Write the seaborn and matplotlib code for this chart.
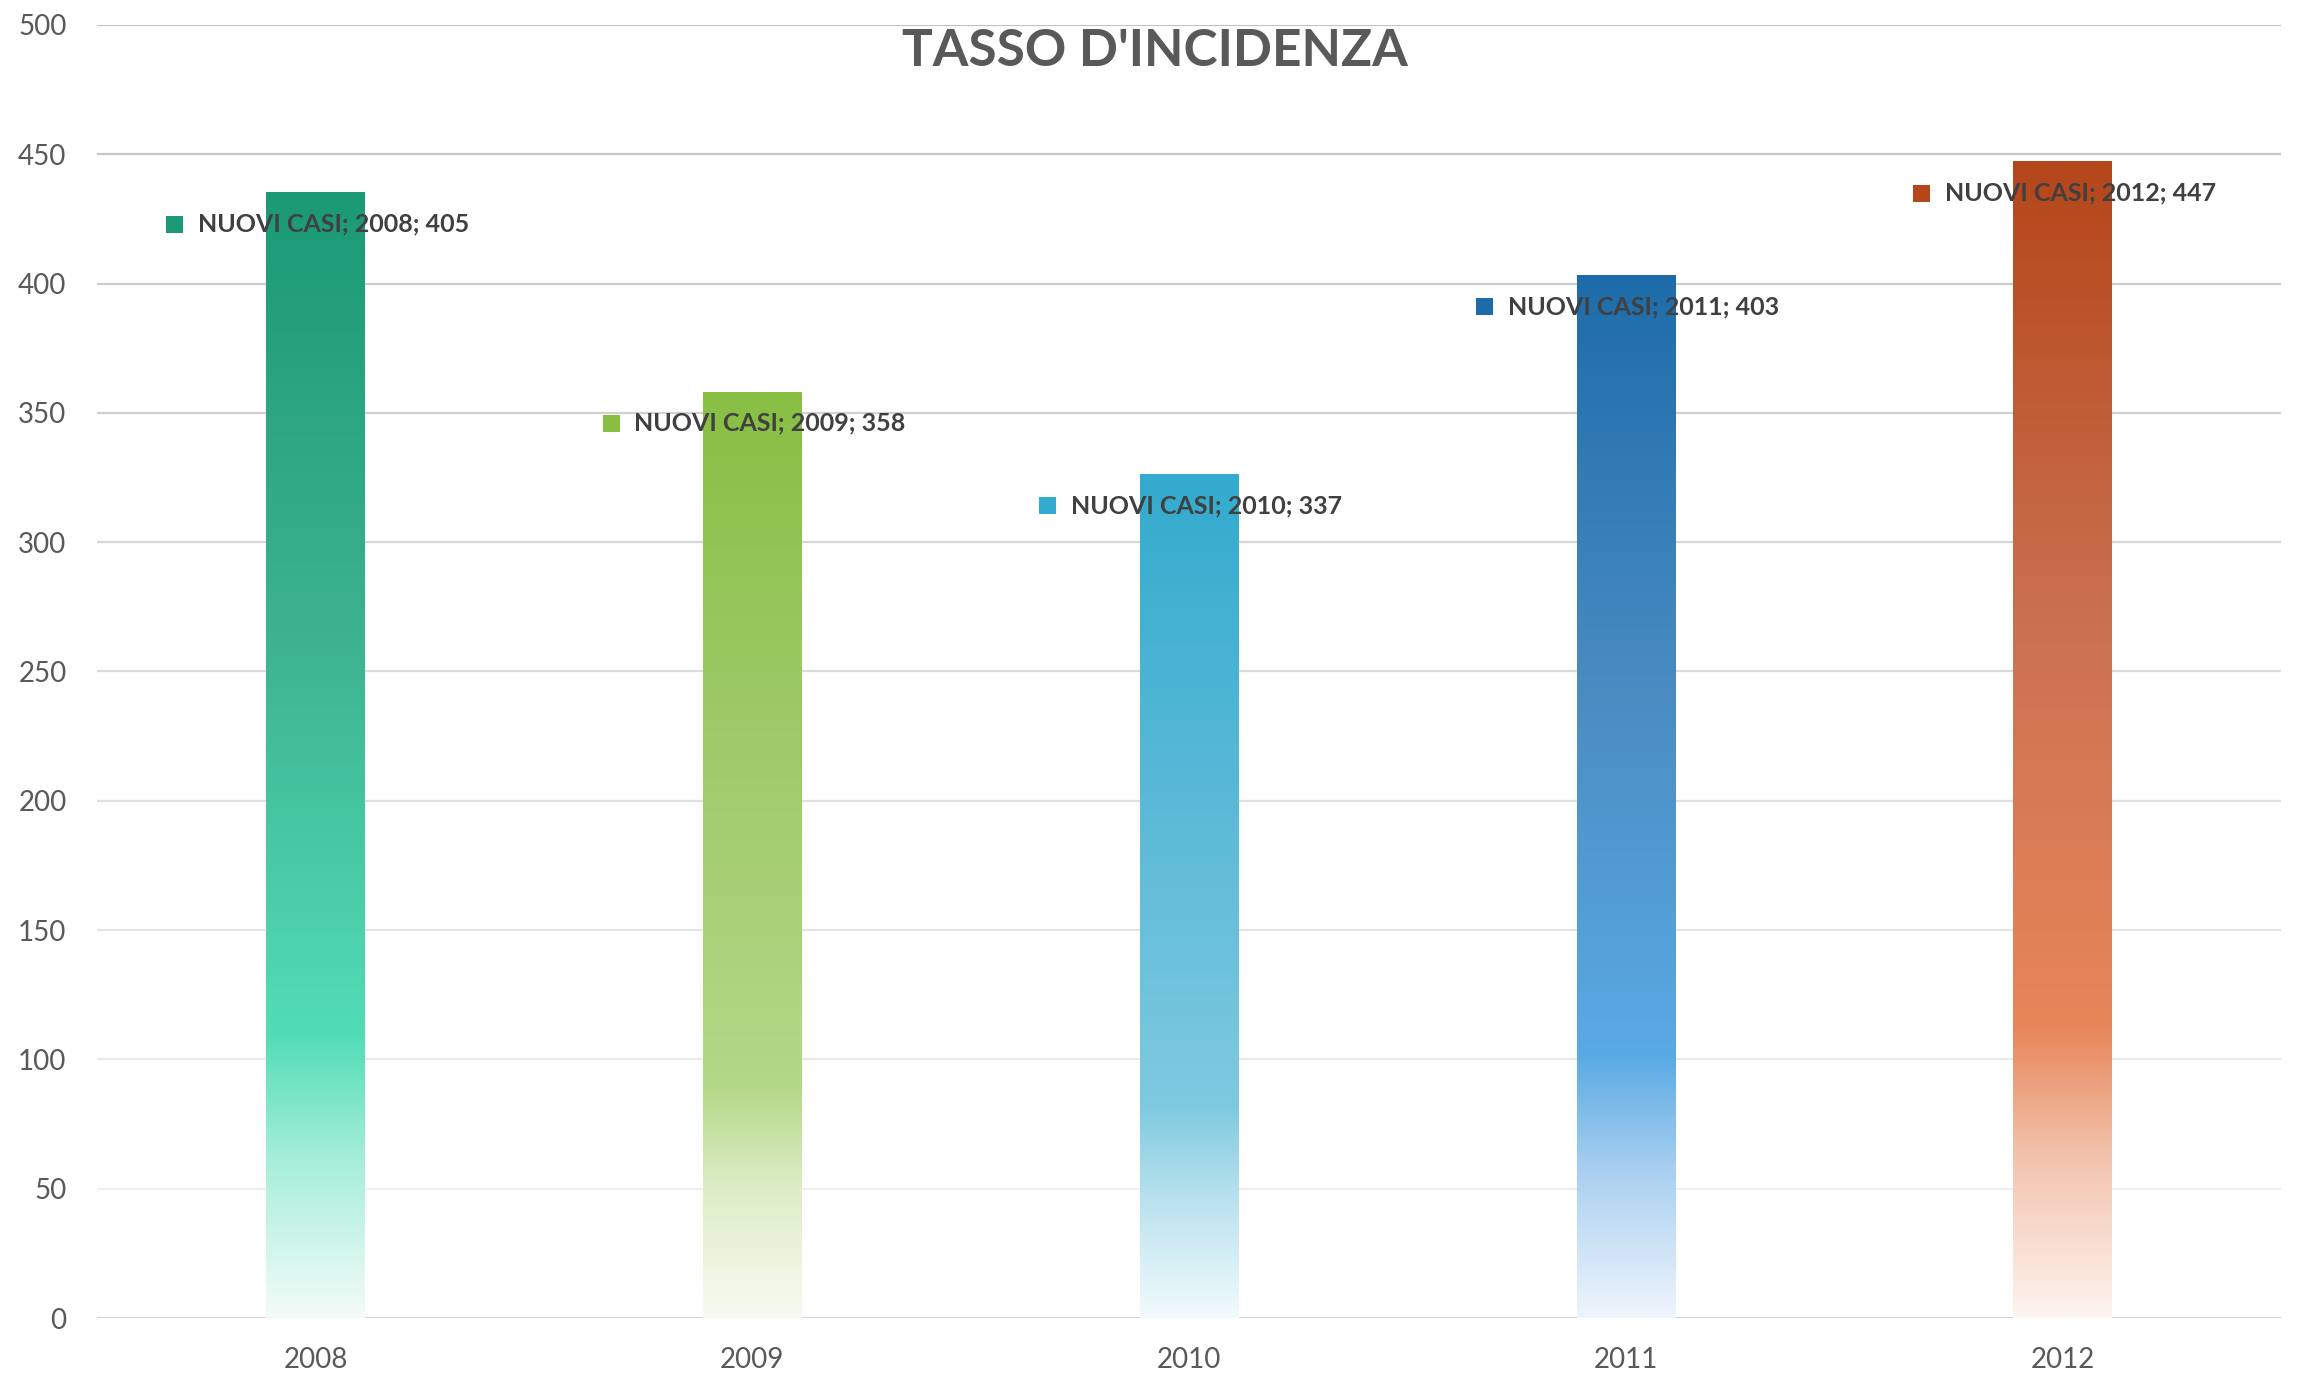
import matplotlib
matplotlib.use('Agg')
import matplotlib.pyplot as plt
import matplotlib.colors as mcolors
import seaborn as sns
import numpy as np
import pandas as pd

# dati
anni = ['2008', '2009', '2010', '2011', '2012']
altezze_barre = [435, 358, 326, 403, 447]      # altezza disegnata delle colonne
valori_etichette = [405, 358, 337, 403, 447]   # valori riportati nelle etichette
serie = 'NUOVI CASI'
titolo = "TASSO D'INCIDENZA"
tick_y = [0, 50, 100, 150, 200, 250, 300, 350, 400, 450, 500]

# sfumature (fondo, chiaro, pieno, metà, cima) per ogni colonna
sfumature = [
    ['#F3FCF9', '#A6EED9', '#52DDB6', '#3DB391', '#1B9975'],
    ['#F8FAF2', '#DDEDC6', '#B3D887', '#A0CB6C', '#88BF43'],
    ['#F2FAFD', '#B9E2EE', '#7ECAE0', '#5BBAD7', '#33ABCE'],
    ['#EEF5FC', '#A9D0F0', '#5AAAE4', '#4A8CC2', '#1D6CA9'],
    ['#FDF4EF', '#F2C3AC', '#E8865A', '#CB7150', '#B4461A'],
]
posizioni = [0.0, 0.14, 0.25, 0.6, 1.0]

sns.set_style('white')
plt.rcParams['font.family'] = ['Lato', 'DejaVu Sans']

fig = plt.figure(figsize=(23, 13.78), dpi=100)
ax = fig.add_axes([0.0422, 0.0435, 0.9495, 0.9384])

df = pd.DataFrame({'anno': anni, 'casi': altezze_barre})
sns.barplot(data=df, x='anno', y='casi', ax=ax, width=0.225,
            color='white', linewidth=0, zorder=2)

# colonne con sfumatura verticale
for patch, cols in zip(ax.patches, sfumature):
    x0, w, h = patch.get_x(), patch.get_width(), patch.get_height()
    cmap = mcolors.LinearSegmentedColormap.from_list('g', list(zip(posizioni, cols)))
    grad = np.linspace(0, 1, 512).reshape(-1, 1)
    ax.imshow(grad, extent=[x0, x0 + w, 0, h], origin='lower', cmap=cmap,
              aspect='auto', zorder=3, interpolation='bicubic')
    patch.set_facecolor('none')

# griglia orizzontale, più scura in alto
for t in tick_y:
    if t == 0:
        c = '#D4D4D4'
    else:
        f = (t - 50) / 450
        c = mcolors.to_hex(np.array(mcolors.to_rgb('#EFEFEF')) * (1 - f)
                           + np.array(mcolors.to_rgb('#C2C2C2')) * f)
    ax.axhline(t, color=c, lw=1.6, zorder=1)

# etichette dati
for i, (h, v, cols) in enumerate(zip(altezze_barre, valori_etichette, sfumature)):
    y = h - 12
    ax.scatter([i - 0.323], [y], marker='s', s=150, color=cols[4], zorder=5,
               edgecolors='none')
    ax.text(i - 0.27, y, f'{serie}; {anni[i]}; {v}', fontsize=18,
            fontweight='bold', color='#404040', va='center', ha='left', zorder=6)

ax.set_xlim(-0.5, 4.5)
ax.set_ylim(0, 500)
ax.set_yticks(tick_y)
ax.set_xlabel('')
ax.set_ylabel('')
ax.tick_params(axis='both', length=0, labelsize=20, labelcolor='#595959')
ax.tick_params(axis='y', pad=22)
ax.tick_params(axis='x', pad=21)
for s in ax.spines.values():
    s.set_visible(False)

fig.text(1155 / 2300, 1 - 51 / 1378, titolo, fontsize=37, fontweight='bold',
         color='#595959', ha='center', va='center')

fig.savefig('out.png', dpi=100)
